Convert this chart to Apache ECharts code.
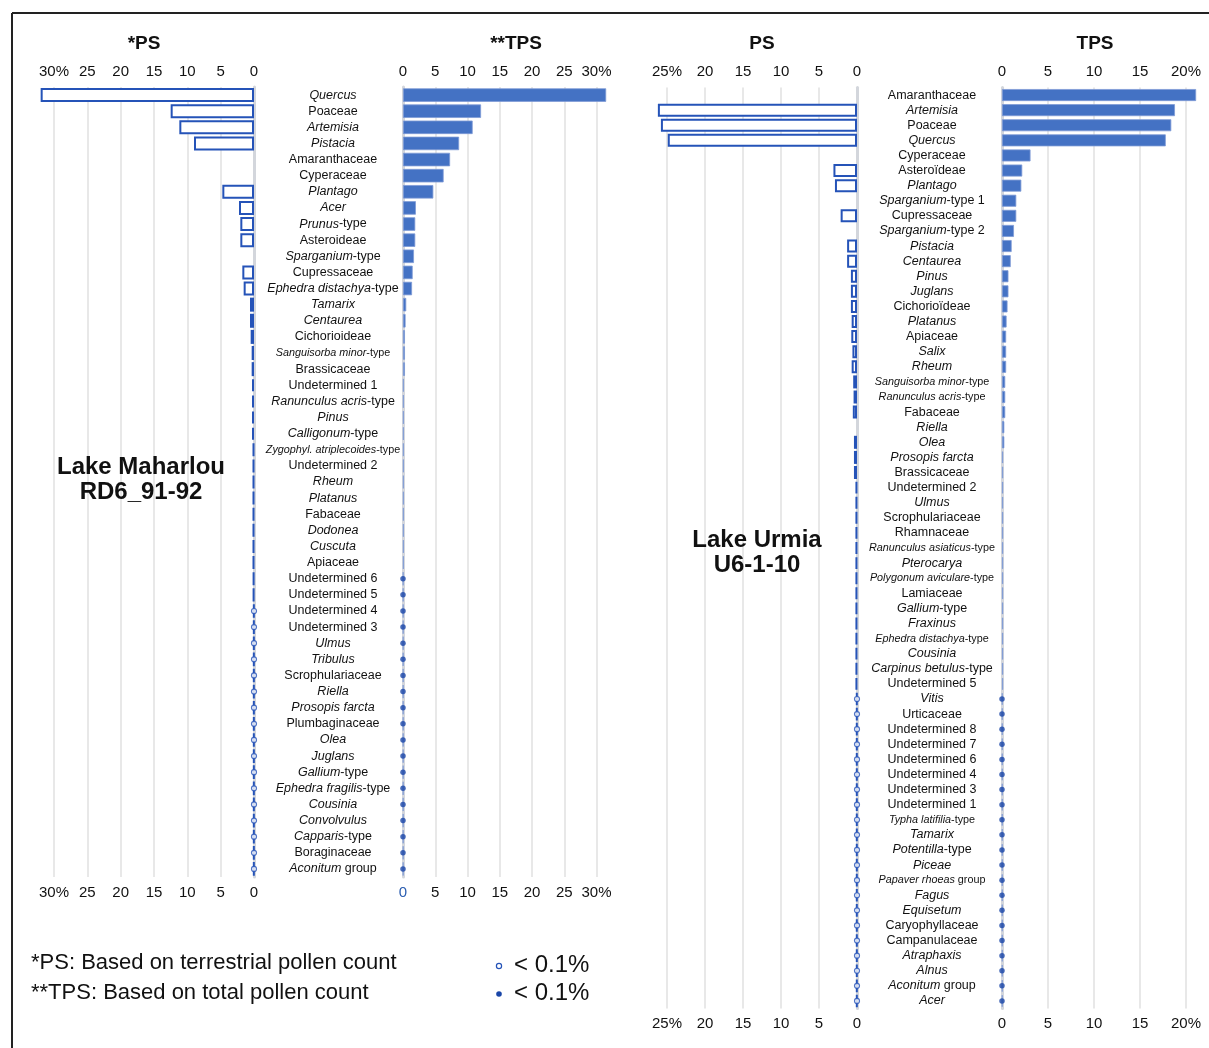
<!DOCTYPE html>
<html>
<head>
<meta charset="utf-8">
<script src="https://cdn.jsdelivr.net/npm/echarts@6/dist/echarts.min.js"></script>
<style>html,body{margin:0;padding:0;background:#fff}#c{width:1209px;height:1048px}</style>
</head>
<body>
<div id="c"></div>
<script>
// ---- Lake Maharlou RD6_91-92 ----
// '*' marks italic parts, leading '~' marks small-font labels
const catsMaharlou = ['*Quercus*','Poaceae','*Artemisia*','*Pistacia*','Amaranthaceae','Cyperaceae','*Plantago*','*Acer*','*Prunus*-type','Asteroideae','*Sparganium*-type','Cupressaceae','*Ephedra distachya*-type','*Tamarix*','*Centaurea*','Cichorioideae','~*Sanguisorba minor*-type','Brassicaceae','Undetermined 1','*Ranunculus acris*-type','*Pinus*','*Calligonum*-type','~*Zygophyl. atriplecoides*-type','Undetermined 2','*Rheum*','*Platanus*','Fabaceae','*Dodonea*','*Cuscuta*','Apiaceae','Undetermined 6','Undetermined 5','Undetermined 4','Undetermined 3','*Ulmus*','*Tribulus*','Scrophulariaceae','*Riella*','*Prosopis farcta*','Plumbaginaceae','*Olea*','*Juglans*','*Gallium*-type','*Ephedra fragilis*-type','*Cousinia*','*Convolvulus*','*Capparis*-type','Boraginaceae','*Aconitum* group'];
const psMaharlou = [32.0,12.5,11.2,9.0,null,null,4.75,2.25,2.05,2.05,null,1.75,1.55,0.6,0.6,0.5,0.35,0.35,0.3,0.3,0.3,0.3,0.15,0.15,0.15,0.15,0.15,0.15,0.15,0.15,0.12,0.12,0.05,0.05,0.05,0.05,0.05,0.05,0.05,0.05,0.05,0.05,0.05,0.05,0.05,0.05,0.05,0.05,0.05];
const tpsMaharlou = [31.5,12.1,10.8,8.7,7.3,6.3,4.7,2.0,1.9,1.9,1.7,1.5,1.4,0.5,0.4,0.3,0.3,0.3,0.12,0.12,0.12,0.12,0.12,0.12,0.12,0.12,0.12,0.12,0.12,0.12,0.05,0.05,0.05,0.05,0.05,0.05,0.05,0.05,0.05,0.05,0.05,0.05,0.05,0.05,0.05,0.05,0.05,0.05,0.05];

// ---- Lake Urmia U6-1-10 ----
const catsUrmia = ['Amaranthaceae','*Artemisia*','Poaceae','*Quercus*','Cyperaceae','Asteroïdeae','*Plantago*','*Sparganium*-type 1','Cupressaceae','*Sparganium*-type 2','*Pistacia*','*Centaurea*','*Pinus*','*Juglans*','Cichorioïdeae','*Platanus*','Apiaceae','*Salix*','*Rheum*','~*Sanguisorba minor*-type','~*Ranunculus acris*-type','Fabaceae','*Riella*','*Olea*','*Prosopis farcta*','Brassicaceae','Undetermined 2','*Ulmus*','Scrophulariaceae','Rhamnaceae','~*Ranunculus asiaticus*-type','*Pterocarya*','~*Polygonum aviculare*-type','Lamiaceae','*Gallium*-type','*Fraxinus*','~*Ephedra distachya*-type','*Cousinia*','*Carpinus betulus*-type','Undetermined 5','*Vitis*','Urticaceae','Undetermined 8','Undetermined 7','Undetermined 6','Undetermined 4','Undetermined 3','Undetermined 1','~*Typha latifilia*-type','*Tamarix*','*Potentilla*-type','*Piceae*','~*Papaver rhoeas* group','*Fagus*','*Equisetum*','Caryophyllaceae','Campanulaceae','*Atraphaxis*','*Alnus*','*Aconitum* group','*Acer*'];
const psUrmia = [null,26.2,25.8,24.9,null,3.1,2.9,null,2.15,null,1.3,1.3,0.8,0.8,0.8,0.7,0.75,0.6,0.7,0.5,0.45,0.55,null,0.4,0.4,0.4,0.15,0.15,0.15,0.15,0.15,0.15,0.15,0.15,0.15,0.15,0.15,0.15,0.15,0.15,0.05,0.05,0.05,0.05,0.05,0.05,0.05,0.05,0.05,0.05,0.05,0.05,0.05,0.05,0.05,0.05,0.05,0.05,0.05,0.05,0.05];
const tpsUrmia = [21.1,18.8,18.4,17.8,3.1,2.2,2.1,1.55,1.55,1.3,1.05,0.95,0.7,0.7,0.6,0.5,0.45,0.45,0.45,0.35,0.35,0.35,0.25,0.25,0.12,0.12,0.12,0.12,0.12,0.12,0.12,0.12,0.12,0.12,0.12,0.12,0.12,0.12,0.12,0.12,0.05,0.05,0.05,0.05,0.05,0.05,0.05,0.05,0.05,0.05,0.05,0.05,0.05,0.05,0.05,0.05,0.05,0.05,0.05,0.05,0.05];

const THRESH = 0.1; // values below are shown as "< 0.1%" markers
const FONT = '"Liberation Sans", Arial, Helvetica, sans-serif';
const BLUE_FILL = '#4472c4', BLUE_LINE = '#2553b8', DOT = '#1a46a8';

function fmtLabel(s) {
  let small = false;
  if (s.startsWith('~')) { small = true; s = s.slice(1); }
  return s.split('*').map((p, k) => p ? '{' + (small ? 's' : '') + (k % 2 ? 'i' : 'n') + '|' + p + '}' : '').join('');
}
const richCat = {
  n: {fontSize: 12.5, fontFamily: FONT, color: '#111'},
  i: {fontSize: 12.5, fontFamily: FONT, color: '#111', fontStyle: 'italic'},
  sn: {fontSize: 10.8, fontFamily: FONT, color: '#111'},
  si: {fontSize: 10.8, fontFamily: FONT, color: '#111', fontStyle: 'italic'}
};
function markers(vals) {
  const out = [];
  vals.forEach((v, i) => { if (v != null && v < THRESH) out.push([0, i]); });
  return out;
}
function xAx(grid, pos, max, inverse, pctAt, show, blueZero) {
  return {
    type: 'value', gridIndex: grid, position: pos, min: 0, max: max, interval: 5, inverse: inverse,
    axisLine: {show: false}, axisTick: {show: false},
    splitLine: {show: show, lineStyle: {color: '#e0e0e0', width: 1.5}},
    axisLabel: {
      margin: 8, fontSize: 15, fontFamily: FONT, color: '#111',
      showMinLabel: true, showMaxLabel: true,
      formatter: v => (v === 0 && blueZero) ? '{b|0}' : (v === pctAt ? v + '%' : String(v)),
      rich: {b: {fontSize: 15, fontFamily: FONT, color: '#2a5db0'}}
    }
  };
}
function yAx(grid, cats, pos, showLabels) {
  return {
    type: 'category', gridIndex: grid, data: cats, inverse: true, position: pos,
    axisLine: {show: true, lineStyle: {color: '#d3d6dc', width: 3}},
    axisTick: {show: false}, splitLine: {show: false},
    axisLabel: {show: showLabels, align: 'center', margin: 70, formatter: fmtLabel, rich: richCat, interval: 0}
  };
}
function txt(x, y, text, font, align) {
  return {type: 'text', x: x, y: y, z: 100,
    style: {text: text, font: font, fill: '#111', textAlign: align || 'center', textVerticalAlign: 'middle'}};
}

const chart = echarts.init(document.getElementById('c'), null, {renderer: 'canvas'});
const option = {
  animation: false,
  backgroundColor: '#fff',
  grid: [
    {left: 54, width: 200, top: 87, height: 790},
    {left: 403, width: 193.5, top: 87, height: 790},
    {left: 667, width: 190, top: 87.5, height: 921},
    {left: 1002, width: 184, top: 87.5, height: 921}
  ],
  xAxis: [
    xAx(0, 'top', 30, true, 30, true, false),
    xAx(0, 'bottom', 30, true, 30, false, false),
    xAx(1, 'top', 30, false, 30, true, false),
    xAx(1, 'bottom', 30, false, 30, false, true),
    xAx(2, 'top', 25, true, 25, true, false),
    xAx(2, 'bottom', 25, true, 25, false, false),
    xAx(3, 'top', 20, false, 20, true, false),
    xAx(3, 'bottom', 20, false, 20, false, false)
  ],
  yAxis: [
    yAx(0, catsMaharlou, 'right', false),
    yAx(1, catsMaharlou, 'left', true),
    yAx(2, catsUrmia, 'right', false),
    yAx(3, catsUrmia, 'left', true)
  ],
  series: [
    {type: 'bar', xAxisIndex: 0, yAxisIndex: 0, data: psMaharlou, barWidth: 14, clip: false,
     itemStyle: {color: '#fff', borderColor: BLUE_LINE, borderWidth: 2}},
    {type: 'bar', xAxisIndex: 2, yAxisIndex: 1, data: tpsMaharlou, barWidth: 13.5, clip: false,
     itemStyle: {color: BLUE_FILL, borderColor: '#7f9bd6', borderWidth: 0.8}},
    {type: 'bar', xAxisIndex: 4, yAxisIndex: 2, data: psUrmia, barWidth: 13, clip: false,
     itemStyle: {color: '#fff', borderColor: BLUE_LINE, borderWidth: 2}},
    {type: 'bar', xAxisIndex: 6, yAxisIndex: 3, data: tpsUrmia, barWidth: 12, clip: false,
     itemStyle: {color: BLUE_FILL, borderColor: '#7f9bd6', borderWidth: 0.8}},
    {type: 'scatter', xAxisIndex: 0, yAxisIndex: 0, data: markers(psMaharlou), symbol: 'circle', symbolSize: 5, clip: false, z: 5,
     itemStyle: {color: '#fff', borderColor: BLUE_LINE, borderWidth: 1.2}},
    {type: 'scatter', xAxisIndex: 2, yAxisIndex: 1, data: markers(tpsMaharlou), symbol: 'circle', symbolSize: 5.5, clip: false, z: 5,
     itemStyle: {color: DOT}},
    {type: 'scatter', xAxisIndex: 4, yAxisIndex: 2, data: markers(psUrmia), symbol: 'circle', symbolSize: 5, clip: false, z: 5,
     itemStyle: {color: '#fff', borderColor: BLUE_LINE, borderWidth: 1.2}},
    {type: 'scatter', xAxisIndex: 6, yAxisIndex: 3, data: markers(tpsUrmia), symbol: 'circle', symbolSize: 5.5, clip: false, z: 5,
     itemStyle: {color: DOT}}
  ],
  graphic: [
    {type: 'line', z: 100, shape: {x1: 12, y1: 13, x2: 1209, y2: 13}, style: {stroke: '#222', lineWidth: 2}},
    {type: 'line', z: 100, shape: {x1: 12, y1: 13, x2: 12, y2: 1048}, style: {stroke: '#222', lineWidth: 2}},
    txt(144, 44, '*PS', 'bold 19px ' + FONT),
    txt(516, 44, '**TPS', 'bold 19px ' + FONT),
    txt(762, 44, 'PS', 'bold 19px ' + FONT),
    txt(1095, 44, 'TPS', 'bold 19px ' + FONT),
    txt(141, 467, 'Lake Maharlou', 'bold 24px ' + FONT),
    txt(141, 492, 'RD6_91-92', 'bold 24px ' + FONT),
    txt(757, 540, 'Lake Urmia', 'bold 24px ' + FONT),
    txt(757, 565, 'U6-1-10', 'bold 24px ' + FONT),
    txt(31, 963, '*PS: Based on terrestrial pollen count', '22px ' + FONT, 'left'),
    txt(31, 993, '**TPS: Based on total pollen count', '22px ' + FONT, 'left'),
    {type: 'circle', z: 100, shape: {cx: 499, cy: 966, r: 2.6}, style: {fill: '#fff', stroke: BLUE_LINE, lineWidth: 1.2}},
    {type: 'circle', z: 100, shape: {cx: 499, cy: 994, r: 2.8}, style: {fill: DOT}},
    txt(514, 965, '< 0.1%', '24px ' + FONT, 'left'),
    txt(514, 993, '< 0.1%', '24px ' + FONT, 'left')
  ]
};
chart.setOption(option);
</script>
</body>
</html>
